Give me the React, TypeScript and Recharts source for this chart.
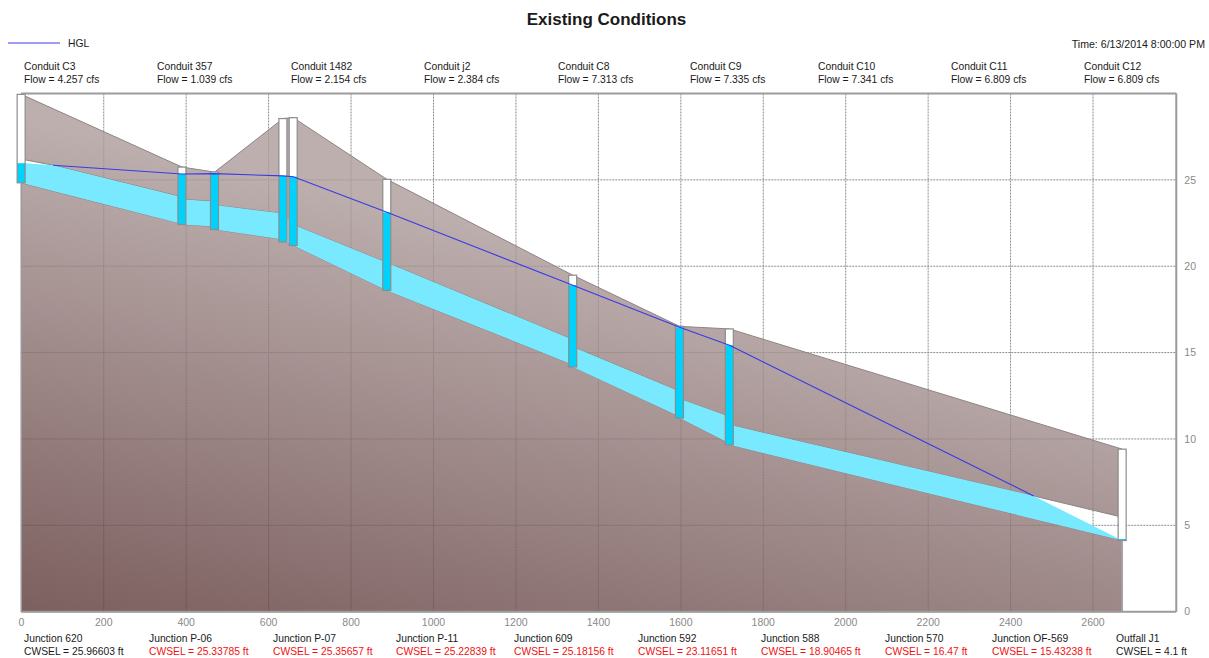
// Storm sewer profile: ground, conduits, junction boxes and HGL for one time step.

import {
  ComposedChart, Area, Bar, Line, XAxis, YAxis, CartesianGrid, Legend, ReferenceLine,
} from "recharts";

const WIDTH = 1209;
const HEIGHT = 658;

// Profile rows. Stations repeat where one conduit ends and the next starts.
const stations = [0, 77, 390, 390, 469, 469, 635, 635, 660, 660, 887, 887, 1338, 1338, 1597, 1597, 1718, 1718, 2456, 2671];
const rimElev = [29.95, 29.12, 25.74, 25.74, 25.45, 25.45, 28.55, 28.55, 28.6, 28.6, 25.03, 25.03, 19.48, 19.48, 16.52, 16.52, 16.37, 16.37, 10.98, 9.41];
const crownElev = [26.2, 25.85, 24.0, 23.87, 23.75, 23.54, 23.05, 22.8, 22.7, 22.4, 20.2, 20.2, 15.75, 15.33, 12.75, 12.33, 11.28, 10.82, 6.7, 5.47];
const invertElev = [24.83, 24.35, 22.45, 22.42, 22.3, 22.13, 21.55, 21.41, 21.3, 21.2, 18.6, 18.6, 14.3, 14.17, 11.3, 11.21, 9.75, 9.66, 5.37, 4.12];
const waterTop = [25.97, 25.85, 24.0, 23.87, 23.75, 23.54, 23.05, 22.8, 22.7, 22.4, 20.2, 20.2, 15.75, 15.33, 12.75, 12.33, 11.28, 10.82, 6.7, 4.12];
const hglElev = [null, 25.85, 25.34, 25.34, 25.36, 25.36, 25.23, 25.23, 25.18, 25.18, 23.12, 23.12, 18.9, 18.9, 16.47, 16.47, 15.43, 15.43, 6.7, null];

// Junctions
const junctionX = [0, 390, 469, 635, 660, 887, 1338, 1597, 1718, 2671];
const junctionRim = [29.95, 25.74, 25.45, 28.55, 28.6, 25.03, 19.48, 16.52, 16.37, 9.41];
const junctionInvert = [24.83, 22.42, 22.13, 21.41, 21.2, 18.6, 14.17, 11.21, 9.66, 4.12];
const junctionNames = ["Junction 620", "Junction P-06", "Junction P-07", "Junction P-11", "Junction 609", "Junction 592", "Junction 588", "Junction 570", "Junction OF-569", "Outfall J1"];
const cwsel = [25.96603, 25.33785, 25.35657, 25.22839, 25.18156, 23.11651, 18.90465, 16.47, 15.43238, 4.1];
const cwselRed = [false, true, true, true, true, true, true, true, true, false];

// Conduits
const conduitNames = ["Conduit C3", "Conduit 357", "Conduit 1482", "Conduit j2", "Conduit C8", "Conduit C9", "Conduit C10", "Conduit C11", "Conduit C12"];
const conduitFlow = ["4.257", "1.039", "2.154", "2.384", "7.313", "7.335", "7.341", "6.809", "6.809"];

const xTicks = [0, 200, 400, 600, 800, 1000, 1200, 1400, 1600, 1800, 2000, 2200, 2400, 2600];
const yTicks = [0, 5, 10, 15, 20, 25];

// label layout
const conduitLeft = [24, 157, 291, 424, 558, 690, 818, 951, 1084];
const junctionLeft = [24, 149, 273, 396, 514, 638, 761, 885, 992, 1116];

const seen = new Set<number>();
const rows = stations.map((x, i) => {
  const j = junctionX.indexOf(x);
  const first = j >= 0 && !seen.has(x);
  seen.add(x);
  return {
    x,
    ground: [0, invertElev[i]],
    cover: [crownElev[i], rimElev[i]],
    water: [invertElev[i], waterTop[i]],
    hgl: hglElev[i],
    box: first ? [junctionInvert[j], junctionRim[j]] : null,
    level: first ? cwsel[j] : null,
  };
});

function JunctionBox(props: any) {
  const { x, y, width, height, payload } = props;
  if (!payload || !payload.box) return null;
  const [low, high] = payload.box;
  const wet = Math.max(1.5, height * (Math.min(payload.level, high) - low) / (high - low));
  return (
    <g>
      <rect x={x} y={y} width={width} height={height} fill="#ffffff" />
      <rect x={x} y={y + height - wet} width={width} height={wet} fill="#00d2fb" />
      <rect x={x} y={y} width={width} height={height} fill="none" stroke="#8c8c8c" strokeWidth={1.2} />
    </g>
  );
}

function HglLegend({ payload }: any) {
  const item = (payload || []).find((p: any) => p.value === "HGL");
  if (!item) return null;
  return (
    <div style={{ display: "flex", alignItems: "center", fontFamily: "'Liberation Sans'", fontSize: 10.3, color: "#1a1a1a" }}>
      <svg width={52} height={4} style={{ display: "block" }}>
        <line x1={0} x2={52} y1={2} y2={2} stroke={item.color} strokeWidth={1} />
      </svg>
      <span style={{ marginLeft: 8, position: "relative", top: 1 }}>{item.value}</span>
    </div>
  );
}

const textStyle: any = {
  position: "absolute", fontFamily: "'Liberation Sans', Arial, sans-serif", fontSize: 10.3,
  lineHeight: "13px", color: "#1a1a1a", whiteSpace: "nowrap",
};

export default function App() {
  return (
    <div style={{ position: "absolute", left: 0, top: 0, width: WIDTH, height: HEIGHT, background: "#fff" }}>
      <ComposedChart width={WIDTH} height={HEIGHT} data={rows} margin={{ top: 93.5, right: 0, bottom: 0, left: 21.3 }}>
        <defs>
          {/* translucent so the grid shows through the ground, as in the original */}
          <linearGradient id="groundFill" gradientUnits="userSpaceOnUse" x1={21} y1={610} x2={127} y2={142}>
            <stop offset="0%" stopColor="#5c3737" stopOpacity={0.8} />
            <stop offset="100%" stopColor="#ac9b9a" stopOpacity={0.8} />
          </linearGradient>
        </defs>
        <CartesianGrid stroke="#8c8c8c" strokeDasharray="2 1" />
        <XAxis dataKey="x" type="number" domain={[0, 2802]} ticks={xTicks} height={46.3} tickLine={false}
          axisLine={{ stroke: "#9c9c9c", strokeWidth: 2 }} tick={{ fontSize: 10.5, fill: "#8a8a8a", fontFamily: "'Liberation Sans'" }} tickMargin={1} />
        <YAxis orientation="right" type="number" domain={[0, 30]} ticks={yTicks} width={32.7} tickLine={false}
          axisLine={{ stroke: "#9c9c9c", strokeWidth: 2 }} tick={{ fontSize: 10.5, fill: "#8a8a8a", fontFamily: "'Liberation Sans'" }} tickMargin={2} />
        <ReferenceLine y={30} stroke="#9c9c9c" strokeWidth={2} />
        <Legend layout="horizontal" verticalAlign="middle" align="center" content={<HglLegend />}
          wrapperStyle={{ left: 8, top: 37, width: 120 }} />
        <Area dataKey="ground" stroke="#8e8484" strokeWidth={1} fill="url(#groundFill)" fillOpacity={1} legendType="none" isAnimationActive={false} dot={false} activeDot={false} />
        <Area dataKey="cover" stroke="#8e8484" strokeWidth={1} fill="url(#groundFill)" fillOpacity={1} legendType="none" isAnimationActive={false} dot={false} activeDot={false} />
        <Area dataKey="water" stroke="none" fill="#78e9ff" fillOpacity={1} legendType="none" isAnimationActive={false} dot={false} activeDot={false} />
        <ReferenceLine segment={[{ x: 0, y: 0 }, { x: 0, y: 24.83 }]} stroke="#9c9c9c" strokeWidth={1.5} />
        <ReferenceLine segment={[{ x: 2671, y: 0 }, { x: 2671, y: 4.12 }]} stroke="#a8a8a8" strokeWidth={1.5} />
        <Line dataKey="hgl" name="HGL" stroke="#3a3ae6" strokeWidth={1.1} dot={false} activeDot={false} isAnimationActive={false} />
        <Bar dataKey="box" barSize={8} legendType="none" shape={JunctionBox} isAnimationActive={false} />
      </ComposedChart>

      <div style={{ ...textStyle, left: 0, width: WIDTH + 4, top: 10, textAlign: "center", fontSize: 17, lineHeight: "20px", fontWeight: 700 }}>
        Existing Conditions
      </div>
      <div style={{ ...textStyle, right: 4, top: 38, fontSize: 10.6 }}>Time: 6/13/2014 8:00:00 PM</div>

      {conduitNames.map((name, i) => (
        <div key={name} style={{ ...textStyle, left: conduitLeft[i], top: 60 }}>
          {name}<br />Flow = {conduitFlow[i]} cfs
        </div>
      ))}
      {junctionNames.map((name, i) => (
        <div key={name} style={{ ...textStyle, left: junctionLeft[i], top: 632 }}>
          {name}<br />
          <span style={{ color: cwselRed[i] ? "#f01010" : "#1a1a1a" }}>CWSEL = {cwsel[i]} ft</span>
        </div>
      ))}
    </div>
  );
}
